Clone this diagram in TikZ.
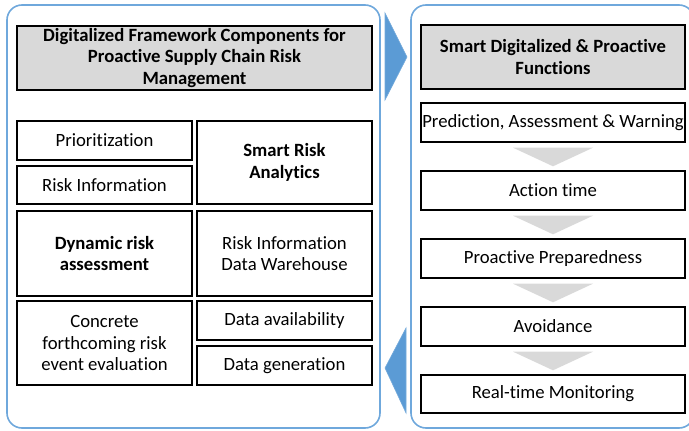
\documentclass[tikz,border=0pt]{standalone}
\usepackage{fontspec}
\setmainfont{Carlito}[Ligatures=NoCommon]
\usetikzlibrary{calc}
\definecolor{frameblue}{HTML}{6FA8DC}
\definecolor{arrowblue}{HTML}{5B9BD5}
\definecolor{hdrgray}{HTML}{D9D9D9}
\definecolor{chevgray}{HTML}{D9D9D9}
\tikzset{
  box/.style={draw=black, line width=1.4pt, fill=white, inner sep=1pt, align=center,
    font=\fontsize{18.7}{21.8}\selectfont},
  hdr/.style={box, fill=hdrgray, font=\bfseries\fontsize{18.7}{21.8}\selectfont},
  frame/.style={draw=frameblue, line width=1.6pt, rounded corners=15pt},
  bigarrow/.style={fill=arrowblue, draw=arrowblue!85!white, line width=0.6pt},
  chev/.style={fill=chevgray, draw=none}
}
\begin{document}
\begin{tikzpicture}[x=1pt, y=-1pt]
\useasboundingbox (0,0) rectangle (689,431);
% frames
\draw[frame] (7,5) rectangle (380,428);
\draw[frame] (411,5) rectangle (694,428);
% left column
\node[hdr, minimum width=355pt, minimum height=64pt] (lh) at (194.5,58) {Digitalized Framework Components for\\Proactive Supply Chain Risk\\Management};
\node[box, minimum width=175pt, minimum height=39pt] (prio) at (104.5,140.5) {Prioritization};
\node[box, minimum width=175pt, minimum height=38pt] (rinfo) at (104.5,185) {Risk Information};
\node[box, minimum width=175pt, minimum height=83pt, font=\bfseries\fontsize{18.7}{21.8}\selectfont] (sra) at (284.5,162.5) {Smart Risk\\Analytics};
\node[box, minimum width=175pt, minimum height=85pt, font=\bfseries\fontsize{18.7}{21.8}\selectfont] (dra) at (104.5,253.5) {Dynamic risk\\assessment};
\node[box, minimum width=175pt, minimum height=85pt] (ridw) at (284.5,253.5) {Risk Information\\Data Warehouse};
\node[box, minimum width=175pt, minimum height=84pt] (conc) at (104.5,343) {Concrete\\forthcoming risk\\event evaluation};
\node[box, minimum width=175pt, minimum height=39pt] (davail) at (284.5,320.5) {Data availability};
\node[box, minimum width=175pt, minimum height=39pt] (dgen) at (284.5,365.5) {Data generation};
% right column
\node[hdr, minimum width=264pt, minimum height=64pt] (rh) at (553,57) {Smart Digitalized \& Proactive\\Functions};
\node[box, minimum width=264pt, minimum height=39pt] (pred) at (553,122.5) {Prediction, Assessment \& Warning};
\node[box, minimum width=264pt, minimum height=39pt] (act) at (553,190.5) {Action time};
\node[box, minimum width=264pt, minimum height=39pt] (prep) at (553,258.5) {Proactive Preparedness};
\node[box, minimum width=264pt, minimum height=39pt] (avoid) at (553,326.5) {Avoidance};
\node[box, minimum width=264pt, minimum height=38pt] (rtm) at (553,394) {Real-time Monitoring};
% chevrons
\foreach \a/\b in {pred/act, act/prep, prep/avoid, avoid/rtm}{
  \fill[chev] ($(\a.south)+(-40,5)$) -- ($(\a.south)+(40,5)$) -- ($(\b.north)+(0,-4)$) -- cycle;
}
% big arrows
\coordinate (ta1) at (385,13);
\coordinate (ta2) at (385,100);
\coordinate (tatip) at (407,57);
\draw[bigarrow] (ta1) -- (tatip) -- (ta2) -- cycle;
\coordinate (ba1) at (406,328);
\coordinate (ba2) at (406,413);
\coordinate (batip) at (385,368);
\draw[bigarrow] (ba1) -- (batip) -- (ba2) -- cycle;
\end{tikzpicture}
\end{document}
